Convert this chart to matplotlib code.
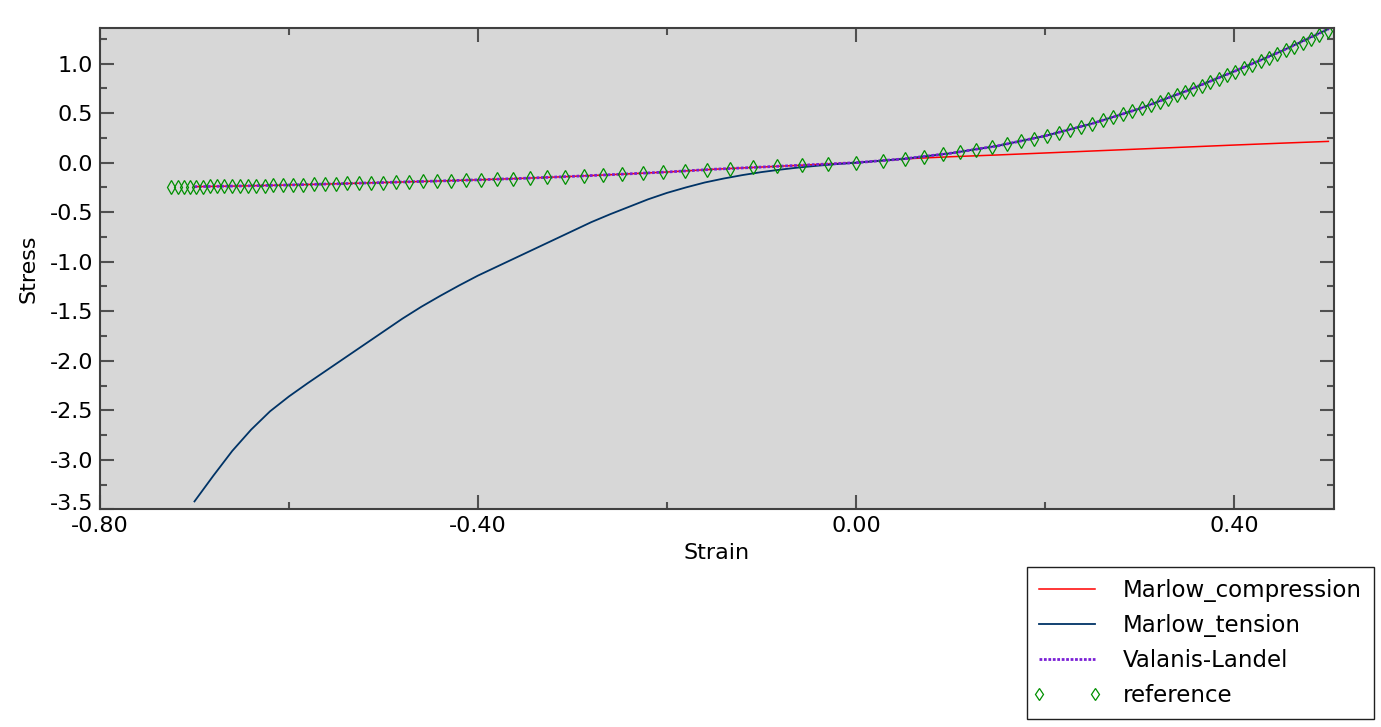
import numpy as np
import matplotlib
matplotlib.use("Agg")
import matplotlib.pyplot as plt
import matplotlib.transforms as mtransforms
from matplotlib.lines import Line2D
from matplotlib.legend_handler import HandlerLine2D
from matplotlib.ticker import MultipleLocator, FormatStrFormatter

# reference points (strain, stress)
ref_strain = [-0.7246, -0.7179, -0.7115, -0.7052, -0.6984, -0.6914, -0.6840, -0.6766,
              -0.6692, -0.6607, -0.6523, -0.6438, -0.6353, -0.6258, -0.6166, -0.6068,
              -0.5962, -0.5856, -0.5740, -0.5623, -0.5507, -0.5386, -0.5262, -0.5135,
              -0.5004, -0.4868, -0.4729, -0.4585, -0.4437, -0.4285, -0.4127, -0.3965,
              -0.3798, -0.3625, -0.3448, -0.3265, -0.3075, -0.2880, -0.2679, -0.2472,
              -0.2258, -0.2038, -0.1811, -0.1577, -0.1335, -0.1087, -0.0831, -0.0566,
              -0.0293, 0.0,
              0.0286, 0.0519, 0.0720, 0.0921, 0.1101, 0.1270, 0.1439, 0.1598, 0.1746,
              0.1884, 0.2021, 0.2148, 0.2270, 0.2386, 0.2503, 0.2614, 0.2720, 0.2825,
              0.2926, 0.3026, 0.3122, 0.3217, 0.3306, 0.3395, 0.3484, 0.3572, 0.3661,
              0.3750, 0.3839, 0.3928, 0.4017, 0.4106, 0.4195, 0.4284, 0.4373, 0.4461,
              0.4550, 0.4639, 0.4728, 0.4817, 0.4906, 0.4995]
ref_stress = [-0.246, -0.245, -0.244, -0.243, -0.242, -0.241, -0.240, -0.239,
              -0.238, -0.237, -0.235, -0.234, -0.232, -0.231, -0.229, -0.227,
              -0.224, -0.222, -0.219, -0.216, -0.213, -0.210, -0.207, -0.204,
              -0.200, -0.197, -0.193, -0.189, -0.185, -0.181, -0.177, -0.172,
              -0.167, -0.161, -0.155, -0.148, -0.141, -0.133, -0.125, -0.116,
              -0.106, -0.096, -0.084, -0.071, -0.060, -0.048, -0.036, -0.025,
              -0.012, 0.0,
              0.020, 0.040, 0.058, 0.083, 0.107, 0.130, 0.158, 0.186, 0.215,
              0.243, 0.273, 0.302, 0.332, 0.362, 0.395, 0.428, 0.460, 0.490,
              0.520, 0.550, 0.582, 0.615, 0.647, 0.680, 0.713, 0.745, 0.778,
              0.812, 0.847, 0.882, 0.917, 0.952, 0.988, 1.024, 1.060, 1.097,
              1.135, 1.173, 1.212, 1.251, 1.290, 1.330]

# Valanis-Landel fit
vl_strain = [-0.70, -0.65, -0.60, -0.55, -0.50, -0.45, -0.40, -0.35, -0.30, -0.25,
             -0.20, -0.15, -0.10, -0.05, 0.0, 0.05, 0.10, 0.15, 0.20, 0.25, 0.30,
             0.35, 0.40, 0.45, 0.50]
vl_stress = [-0.242, -0.235, -0.225, -0.213, -0.200, -0.187, -0.173, -0.157, -0.138,
             -0.117, -0.094, -0.066, -0.044, -0.022, 0.0, 0.038, 0.095, 0.170, 0.270,
             0.395, 0.545, 0.725, 0.920, 1.125, 1.350]

# Marlow calibrated with compression data
mc_strain = [-0.70, -0.65, -0.60, -0.55, -0.50, -0.45, -0.40, -0.35, -0.30, -0.25,
             -0.20, -0.15, -0.10, -0.05, 0.0, 0.05, 0.10, 0.15, 0.20, 0.25, 0.30,
             0.35, 0.40, 0.45, 0.50]
mc_stress = [-0.242, -0.235, -0.225, -0.213, -0.200, -0.187, -0.173, -0.157, -0.138,
             -0.117, -0.094, -0.066, -0.044, -0.022, 0.0, 0.038, 0.060, 0.078, 0.098,
             0.118, 0.138, 0.158, 0.178, 0.197, 0.215]

# Marlow calibrated with tension data
mt_strain = [-0.70, -0.68, -0.66, -0.64, -0.62, -0.60, -0.58, -0.56, -0.54, -0.52,
             -0.50, -0.48, -0.46, -0.44, -0.42, -0.40, -0.38, -0.36, -0.34, -0.32,
             -0.30, -0.28, -0.26, -0.24, -0.22, -0.20, -0.18, -0.16, -0.14, -0.12,
             -0.10, -0.08, -0.06, -0.04, -0.02, 0.0, 0.05, 0.10, 0.15, 0.20, 0.25,
             0.30, 0.35, 0.40, 0.45, 0.50]
mt_stress = [-3.42, -3.16, -2.91, -2.695, -2.51, -2.36, -2.225, -2.095, -1.965, -1.835,
             -1.705, -1.575, -1.455, -1.345, -1.24, -1.14, -1.05, -0.96, -0.87, -0.78,
             -0.69, -0.60, -0.52, -0.445, -0.37, -0.305, -0.25, -0.20, -0.16, -0.125,
             -0.095, -0.07, -0.048, -0.03, -0.014, 0.0, 0.038, 0.095, 0.170, 0.270, 0.395,
             0.545, 0.725, 0.920, 1.125, 1.350]

plt.rcParams['font.family'] = ['DejaVu Sans']

fig = plt.figure(figsize=(13.81, 7.27), dpi=100)
ax = fig.add_axes([0.0724, 0.2994, 0.8936, 0.6625])
ax.set_facecolor('#d7d7d7')

ax.plot(mc_strain, mc_stress, color='#ff0000', lw=1.1, label='Marlow_compression')
ax.plot(mt_strain, mt_stress, color='#003366', lw=1.3, label='Marlow_tension')
ax.plot(vl_strain, vl_stress, color='#7a1fd6', lw=2.0, ls=(0, (1, 0.6)),
        label='Valanis-Landel')
ax.plot(ref_strain, ref_stress, ls='none', marker='d', ms=7.5, mfc='none',
        mec='#009000', mew=0.9, label='reference')

ax.set_xlim(-0.80, 0.506)
ax.set_ylim(-3.5, 1.363)

ax.xaxis.set_major_locator(MultipleLocator(0.4))
ax.xaxis.set_minor_locator(MultipleLocator(0.2))
ax.xaxis.set_major_formatter(FormatStrFormatter('%.2f'))
ax.yaxis.set_major_locator(MultipleLocator(0.5))
ax.yaxis.set_minor_locator(MultipleLocator(0.25))
ax.yaxis.set_major_formatter(FormatStrFormatter('%.1f'))

ax.tick_params(which='both', direction='in', top=True, right=True,
               color='#505050', width=1.5, labelsize=16, pad=5)
ax.tick_params(which='major', length=10)
ax.tick_params(which='minor', length=5)
for s in ax.spines.values():
    s.set_color('#404040')
    s.set_linewidth(1.5)

# lift the lowest y label a little so it clears the first x label
ylocs = list(ax.yaxis.get_majorticklocs())
yticks = ax.yaxis.get_major_ticks(len(ylocs))
for tk, loc in zip(yticks, ylocs):
    if abs(loc + 3.5) < 1e-6:
        lab = tk.label1
        lab.set_transform(lab.get_transform() +
                          mtransforms.ScaledTranslation(0, 5 / 72, fig.dpi_scale_trans))

ax.set_xlabel('Strain', fontsize=16, labelpad=5)
ax.set_ylabel('Stress', fontsize=16, labelpad=8)

leg = fig.legend(loc='upper right', bbox_to_anchor=(0.995, 0.2201),
                 borderaxespad=0, fontsize=16.5, handlelength=2.44,
                 handletextpad=1.22, labelspacing=0.52, borderpad=0.52,
                 numpoints=2, fancybox=False, framealpha=1, edgecolor='#202020',
                 handler_map={Line2D: HandlerLine2D(marker_pad=0)})
leg.get_frame().set_linewidth(1.0)
for h in leg.legend_handles:
    if h.get_marker() == 'd':
        h.set_markersize(6)

fig.savefig('out.png', dpi=100)
